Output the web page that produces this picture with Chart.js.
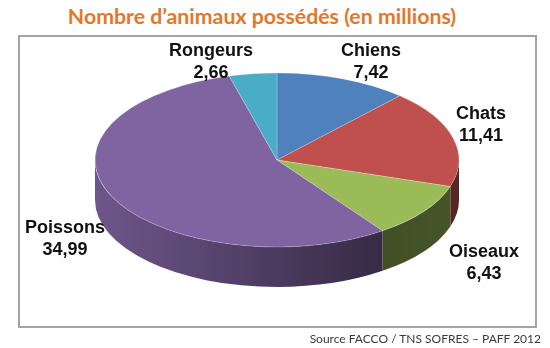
<!DOCTYPE html>
<html lang="fr">
<head>
<meta charset="utf-8">
<title>Nombre d'animaux possédés</title>
<script src="https://cdn.jsdelivr.net/npm/chart.js@4.4.0/dist/chart.umd.min.js"></script>
<style>
  html, body { margin: 0; padding: 0; background: #fff; }
  #wrap { position: relative; width: 550px; height: 348px; overflow: hidden; }
  #titre {
    position: absolute; left: 0; top: 4px; width: 524px;
    text-align: center; font: bold 21.3px Lato, sans-serif; line-height: 24px;
    color: #E3772B; white-space: nowrap;
  }
  #cadre {
    position: absolute; left: 18px; top: 35px; width: 519px; height: 293px;
    box-sizing: border-box; border: 2px solid #a3a3a3;
  }
  #source {
    position: absolute; right: 9px; top: 331px;
    font: 12px Lato, sans-serif; line-height: 15px; color: #3a3a3a; white-space: nowrap;
  }
  canvas { position: absolute; left: 0; top: 0; }
</style>
</head>
<body>
<div id="wrap">
  <div id="titre">Nombre d’animaux possédés (en millions)</div>
  <div id="cadre"></div>
  <canvas id="animauxChart" width="550" height="348"></canvas>
  <div id="source">Source FACCO / TNS SOFRES – PAFF 2012</div>
</div>
<script>
// Données (en millions)
const categories = ['Chiens', 'Chats', 'Oiseaux', 'Poissons', 'Rongeurs'];
const valeurs = [7.42, 11.41, 6.43, 34.99, 2.66];
const couleurs = ['#4F81BD', '#C0504D', '#9BBB59', '#8064A2', '#4BACC6'];

// Mise en page du camembert 3D
const RAYON = 182;
const APLAT = 87 / 182;   // rapport hauteur / largeur de l'ellipse
const EPAISSEUR = 40;     // hauteur du bord
const posEtiquettes = [[371, 51], [481, 114], [484, 252], [65, 228], [211, 51]];

function assombrir(hex, f) {
    const n = parseInt(hex.slice(1), 16);
    const r = Math.round(((n >> 16) & 255) * f);
    const g = Math.round(((n >> 8) & 255) * f);
    const b = Math.round((n & 255) * f);
    return `rgb(${r},${g},${b})`;
}

// Bord du camembert + écrasement vertical des parts
const relief = {
    id: 'relief',
    beforeDatasetsDraw(chart) {
        const ctx = chart.ctx;
        const arcs = chart.getDatasetMeta(0).data;
        const cx = arcs[0].x, cy = arcs[0].y;
        const rx = arcs[0].outerRadius, ry = rx * APLAT;
        arcs.forEach((arc, i) => {
            const s = Math.max(arc.startAngle, 0);
            const e = Math.min(arc.endAngle, Math.PI);
            if (s >= e) return;
            const grad = ctx.createLinearGradient(cx - rx, 0, cx + rx, 0);
            grad.addColorStop(0, assombrir(couleurs[i], 0.86));
            grad.addColorStop(0.8, assombrir(couleurs[i], 0.42));
            grad.addColorStop(1, assombrir(couleurs[i], 0.46));
            ctx.beginPath();
            ctx.ellipse(cx, cy, rx, ry, 0, s, e);
            ctx.ellipse(cx, cy + EPAISSEUR, rx, ry, 0, e, s, true);
            ctx.closePath();
            ctx.fillStyle = grad;
            ctx.fill();
        });
        ctx.save();
        ctx.translate(cx, cy);
        ctx.scale(1, APLAT);
        ctx.translate(-cx, -cy);
    },
    afterDatasetsDraw(chart) {
        chart.ctx.restore();
    }
};

// Étiquettes : nom + valeur
const etiquettes = {
    id: 'etiquettes',
    afterDraw(chart) {
        const ctx = chart.ctx;
        ctx.save();
        ctx.font = 'bold 18px "Liberation Sans", Arial, sans-serif';
        ctx.fillStyle = '#111';
        ctx.textAlign = 'center';
        ctx.textBaseline = 'middle';
        chart.data.labels.forEach((lab, i) => {
            const [x, y] = posEtiquettes[i];
            ctx.fillText(lab, x, y);
            ctx.fillText(valeurs[i].toFixed(2).replace('.', ','), x, y + 22);
        });
        ctx.restore();
    }
};

const ctx = document.getElementById('animauxChart').getContext('2d');
const animauxChart = new Chart(ctx, {
    type: 'pie',
    data: {
        labels: categories,
        datasets: [{
            data: valeurs,
            backgroundColor: couleurs,
            borderColor: 'rgba(255,255,255,0.3)',
            borderWidth: 1,
            clip: false
        }]
    },
    options: {
        responsive: false,
        animation: false,
        radius: RAYON,
        layout: {
            padding: { left: 4, right: 0, top: 0, bottom: 28 }
        },
        plugins: {
            legend: { display: false },
            tooltip: { enabled: false }
        }
    },
    plugins: [relief, etiquettes]
});
</script>
</body>
</html>
